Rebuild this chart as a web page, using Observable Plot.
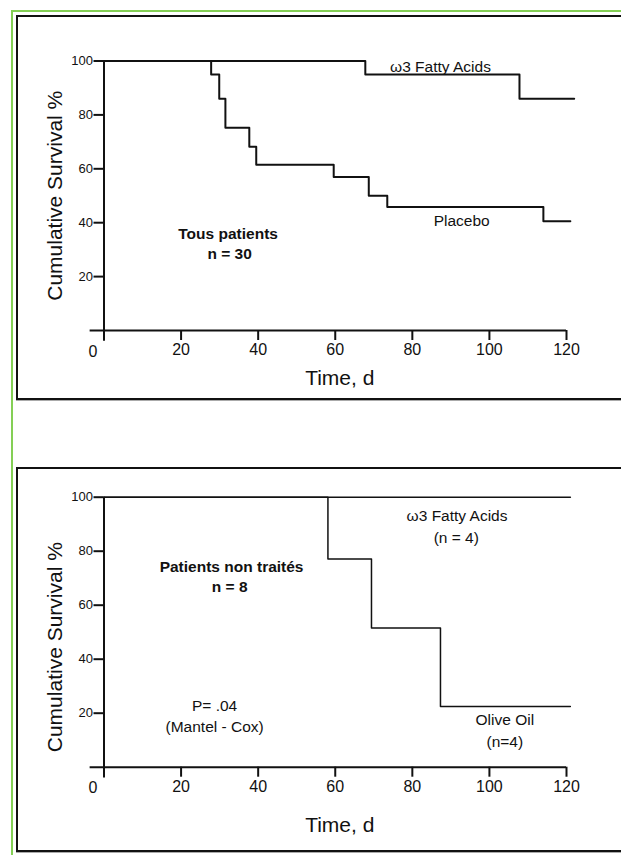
<!DOCTYPE html>
<html><head><meta charset="utf-8">
<script src="https://cdn.jsdelivr.net/npm/d3@7"></script>
<script src="https://cdn.jsdelivr.net/npm/@observablehq/plot@0.6"></script>
<style>
html,body{margin:0;padding:0;background:#fff;overflow:hidden;width:621px;height:855px;position:relative}
#green{position:absolute;left:11px;top:10px;width:900px;height:900px;border-left:2px solid #84cf55;border-top:2px solid #84cf55;z-index:0}
.box{position:absolute;left:16px;width:900px;height:385px;box-sizing:border-box;border:2px solid #111;box-shadow:0 1px 0 #aaa;z-index:1}
#box1{top:15px}
#box2{top:467px}
.panel{position:absolute;left:0;z-index:2}
</style></head><body>
<div id="green"></div><div class="box" id="box1"></div><div class="box" id="box2"></div>
<div class="panel" id="p1" style="top:0"></div>
<div class="panel" id="p2" style="top:440px"></div>
<script>
// ---- data ----
const xTicks = [0, 20, 40, 60, 80, 100, 120];
const yTicks = [20, 40, 60, 80, 100];
const xTitle = "Time, d";
const yTitle = "Cumulative Survival %";

// Panel 1: all patients
const omegaAllDays = [0, 67.8, 107.8, 122];
const omegaAllSurv = [100, 95, 86, 86];
const placeboDays = [0, 27.8, 29.9, 31.5, 37.7, 39.5, 59.6, 68.7, 73.5, 114, 121];
const placeboSurv = [100, 95, 86, 75.2, 68.2, 61.5, 57, 50, 45.8, 40.5, 40.5];
const labels1 = [
  {text: "ω3 Fatty Acids", x: 87.3, y: 97.8},
  {text: "Placebo", x: 92.8, y: 40.7}
];
const bold1 = [
  {text: "Tous patients", x: 32.2, y: 35.7},
  {text: "n = 30", x: 32.6, y: 28.4}
];

// Panel 2: untreated patients
const omegaUntrDays = [0, 121];
const omegaUntrSurv = [100, 100];
const oliveDays = [0, 58.1, 69.4, 87.3, 121];
const oliveSurv = [100, 77.1, 51.6, 22.5, 22.5];
const labels2 = [
  {text: "ω3 Fatty Acids", x: 91.6, y: 93.0},
  {text: "(n = 4)", x: 91.4, y: 85.0},
  {text: "P= .04", x: 28.7, y: 22.6},
  {text: "(Mantel - Cox)", x: 28.7, y: 14.7},
  {text: "Olive Oil", x: 104, y: 17.6},
  {text: "(n=4)", x: 104, y: 9.4}
];
const bold2 = [
  {text: "Patients non traités", x: 33.1, y: 74.0},
  {text: "n = 8", x: 32.6, y: 66.6}
];

const FONT = "'Liberation Sans', Arial, sans-serif";
const toRows = (days, surv) => days.map((d, i) => ({day: d, surv: surv[i]}));

function panel({curves, labels, bold, height, marginTop, marginBottom, yTitleDy, xTitleDy, curveWidth}) {
  return Plot.plot({
    width: 621, height,
    marginLeft: 103.5, marginRight: 55, marginTop, marginBottom,
    x: {domain: [0, 120]},
    y: {domain: [0, 100]},
    style: {fontFamily: FONT, color: "#111", background: "transparent", overflow: "visible"},
    marks: [
      Plot.ruleX([0], {y1: -4, y2: 100, strokeWidth: 2, stroke: "#111"}),
      Plot.ruleY([0], {x1: -3.6, x2: 120, strokeWidth: 2, stroke: "#111"}),
      Plot.axisY(yTicks, {tickSize: 10, tickPadding: 1, strokeWidth: 2, fontSize: 13, label: null}),
      Plot.axisX(xTicks.filter(d => d > 0), {tickSize: 10, tickPadding: 3, strokeWidth: 2, fontSize: 16, label: null}),
      Plot.text(xTicks.filter(d => d === 0), {x: d => d, frameAnchor: "bottom", lineAnchor: "middle", dy: 21, dx: -11, text: d => String(d), fontSize: 16}),
      ...curves.map(c => Plot.line(toRows(c.days, c.surv), {x: "day", y: "surv", curve: "step-after", strokeWidth: curveWidth, stroke: "#111"})),
      Plot.text(labels, {x: "x", y: "y", text: "text", fontSize: 15.5, fill: "#111"}),
      Plot.text(bold, {x: "x", y: "y", text: "text", fontSize: 15.5, fontWeight: "bold", fill: "#111"}),
      Plot.text([yTitle], {frameAnchor: "left", textAnchor: "middle", lineAnchor: "middle", dx: -48.5, dy: yTitleDy, rotate: -90, fontSize: 21, text: d => d}),
      Plot.text([xTitle], {frameAnchor: "bottom", textAnchor: "middle", lineAnchor: "middle", dx: 4.5, dy: xTitleDy, fontSize: 21, text: d => d})
    ]
  });
}

document.getElementById("p1").appendChild(panel({
  curves: [{days: omegaAllDays, surv: omegaAllSurv}, {days: placeboDays, surv: placeboSurv}],
  labels: labels1, bold: bold1,
  height: 400, marginTop: 60.5, marginBottom: 70,
  yTitleDy: 0, xTitleDy: 48, curveWidth: 2
}));
document.getElementById("p2").appendChild(panel({
  curves: [{days: omegaUntrDays, surv: omegaUntrSurv}, {days: oliveDays, surv: oliveSurv}],
  labels: labels2, bold: bold2,
  height: 415, marginTop: 56.7, marginBottom: 88.3,
  yTitleDy: 15, xTitleDy: 58, curveWidth: 1.5
}));
</script></body></html>
